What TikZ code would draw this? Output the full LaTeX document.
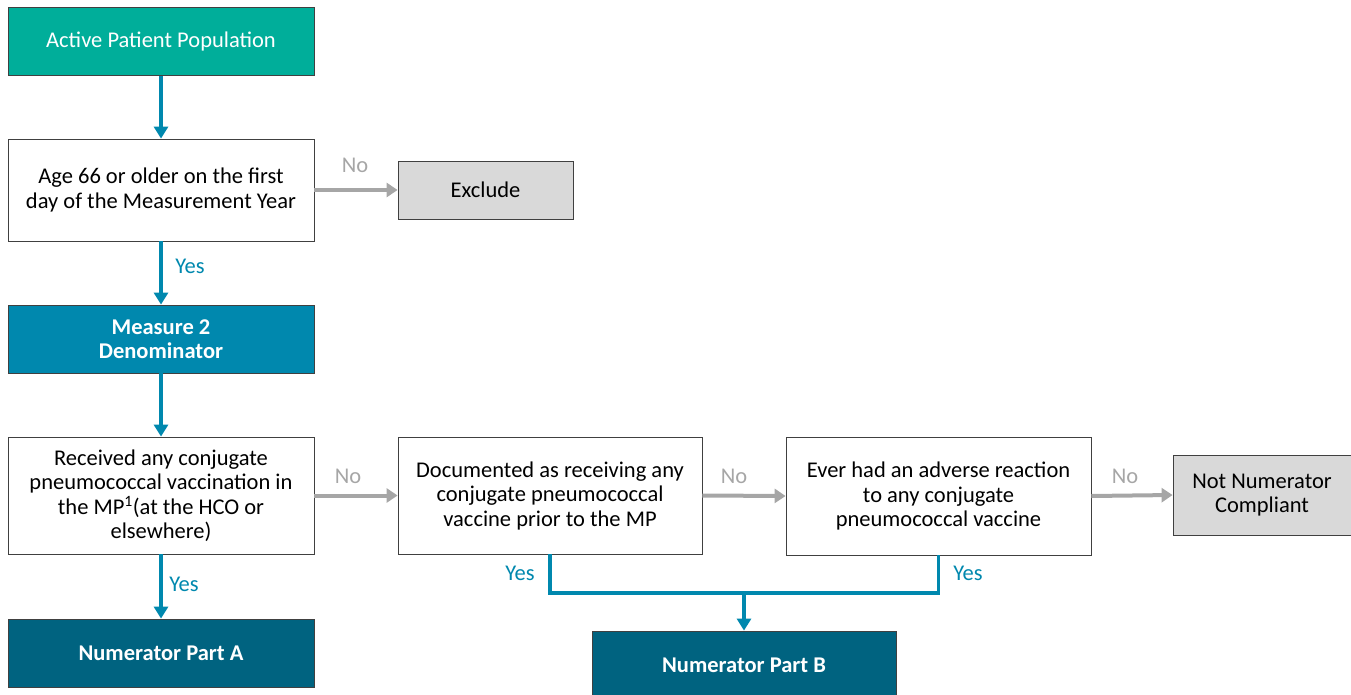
\documentclass[tikz,border=0pt]{standalone}
\usepackage{fontspec}
\setmainfont{Carlito}
\usetikzlibrary{arrows.meta}
\definecolor{popgreen}{RGB}{0,174,154}
\definecolor{denblue}{RGB}{0,136,174}
\definecolor{numblue}{RGB}{0,99,128}
\definecolor{exgray}{RGB}{217,217,217}
\definecolor{nogray}{RGB}{166,166,166}
\definecolor{edgegray}{RGB}{64,64,64}

\begin{document}
\begin{tikzpicture}[x=1pt, y=-1pt,
    font=\fontsize{22.5}{24.5}\selectfont,
    box/.style={draw=edgegray, line width=0.8pt, inner sep=0pt, align=center},
    whitebox/.style={box, fill=white, minimum width=306pt},
    graybox/.style={box, fill=exgray},
    colbox/.style={box, fill=#1, text=white, minimum width=306pt, minimum height=68pt},
    yesline/.style={draw=denblue, line width=3.2pt},
    yesarrow/.style={yesline, -{Triangle[length=12pt, width=14pt]}},
    noarrow/.style={draw=nogray, line width=4pt, -{Triangle[length=11pt, width=14pt]}},
    yeslabel/.style={text=denblue},
    nolabel/.style={text=nogray}]
  \useasboundingbox (0,0) rectangle (1351,695);
  \node[colbox=popgreen] (pop) at (161,41.5) {Active Patient Population};
  \node[whitebox, minimum height=102pt] (age) at (161,190) {Age 66 or older on the first\\day of the Measurement Year};
  \node[graybox, minimum width=175pt, minimum height=58pt] (excl) at (485.5,190) {Exclude};
  \node[colbox=denblue, font=\fontsize{22.5}{24.5}\selectfont\bfseries] (den) at (161,339) {Measure 2\\Denominator};
  \node[whitebox, minimum height=117pt] (recv) at (161,495.5) {Received any conjugate\\pneumococcal vaccination in\\the MP\textsuperscript{1}(at the HCO or\\elsewhere)};
  \node[whitebox, minimum width=304pt, minimum height=117pt] (doc) at (550,495.5) {Documented as receiving any\\conjugate pneumococcal\\vaccine prior to the MP};
  \node[whitebox, minimum width=305pt, minimum height=118pt] (ever) at (938.5,496) {Ever had an adverse reaction\\to any conjugate\\pneumococcal vaccine};
  \node[graybox, minimum width=178pt, minimum height=80pt] (notc) at (1262,495) {Not Numerator\\Compliant};
  \node[colbox=numblue, font=\fontsize{22.5}{24.5}\selectfont\bfseries] (numa) at (161,653) {Numerator Part A};
  \node[colbox=numblue, minimum width=304pt, font=\fontsize{22.5}{24.5}\selectfont\bfseries] (numb) at (744,665) {Numerator Part B};
  \coordinate (merge) at (744,593);

  \draw[yesarrow] (pop) -- (age);
  \draw[yesarrow] (age) -- (den);
  \draw[yesarrow] (den) -- (recv);
  \draw[yesarrow] (recv) -- (numa);
  \draw[yesline] (doc.south) |- (merge) -| (ever.south);
  \draw[yesarrow] (merge) -- (numb.north);
  \draw[noarrow] (age.east) -- (excl.west);
  \draw[noarrow] (recv.east) -- (doc.west);
  \draw[noarrow] (doc.east) -- (ever.west);
  \draw[noarrow] (ever.east) -- (notc.west);

  \node[yeslabel] (y1) at (190,266) {Yes};
  \node[yeslabel] (y2) at (184,584) {Yes};
  \node[yeslabel] (y3) at (520,573) {Yes};
  \node[yeslabel] (y4) at (968,573) {Yes};
  \node[nolabel] (n1) at (355,165) {No};
  \node[nolabel] (n2) at (348,476) {No};
  \node[nolabel] (n3) at (734,476) {No};
  \node[nolabel] (n4) at (1125,476) {No};
\end{tikzpicture}
\end{document}
